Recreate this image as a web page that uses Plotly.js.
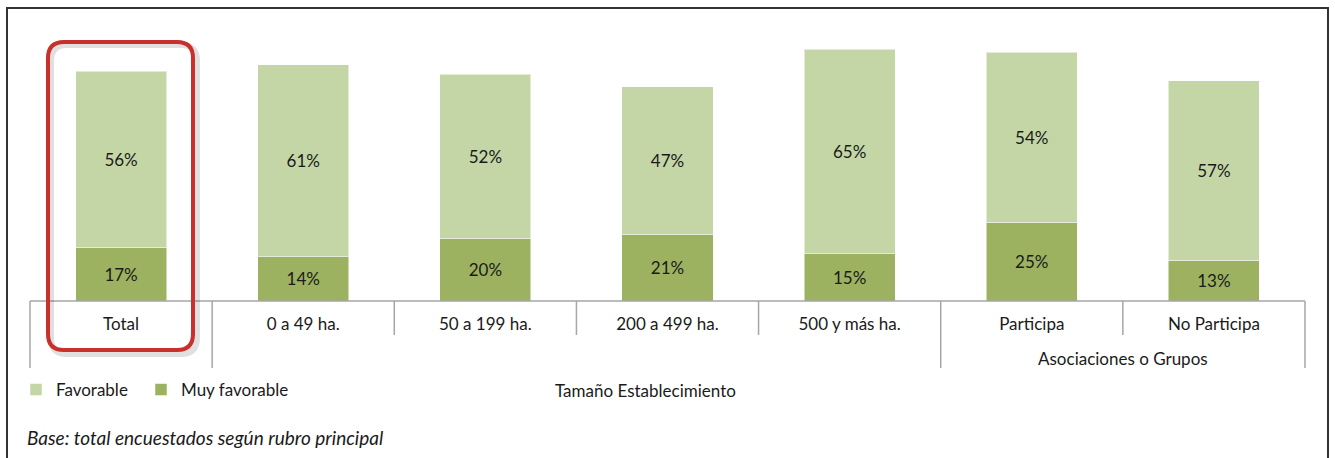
<!DOCTYPE html>
<html><head><meta charset="utf-8">
<script src="https://cdn.plot.ly/plotly-3.0.1.min.js"></script>
<style>html,body{margin:0;padding:0;background:#fff;} #chart{width:1335px;height:458px;}</style>
</head><body><div id="chart"></div>
<script>
// ---- data ----
const categories = ["Total", "0 a 49 ha.", "50 a 199 ha.", "200 a 499 ha.", "500 y más ha.", "Participa", "No Participa"];
const muyFavorable = [17, 14, 20, 21, 15, 25, 13];
const favorable = [56, 61, 52, 47, 65, 54, 57];
const seriesNames = ["Favorable", "Muy favorable"];
const groupLabels = ["Tamaño Establecimiento", "Asociaciones o Grupos"];
const groupRanges = [[1, 4], [5, 6]];
const footnote = "Base: total encuestados según rubro principal";

// ---- layout helpers (pixel -> paper) ----
const W = 1335, H = 458;
const L = 30, R = 1305, T = 33, B = 301;
const px = p => (p - L) / (R - L);
const py = p => (B - p) / (B - T);
const n = categories.length;
const FONT = "Lato, 'Open Sans', sans-serif";
const TXT = "#1a1a1a";
const LIGHT = "#C4D6A6", DARK = "#9CB260";

const traces = [
  {
    type: "bar", name: seriesNames[1], x: categories, y: muyFavorable, legend: "legend2",
    marker: {color: DARK, line: {color: "rgba(255,255,255,0.5)", width: 1}},
    texttemplate: "%{y}%", textposition: "inside", insidetextanchor: "middle",
    textangle: 0, constraintext: "none",
    textfont: {family: FONT, size: 17, color: TXT}, hoverinfo: "skip"
  },
  {
    type: "bar", name: seriesNames[0], x: categories, y: favorable, legend: "legend",
    marker: {color: LIGHT, line: {color: "rgba(255,255,255,0.5)", width: 1}},
    texttemplate: "%{y}%", textposition: "inside", insidetextanchor: "middle",
    textangle: 0, constraintext: "none",
    textfont: {family: FONT, size: 17, color: TXT}, hoverinfo: "skip"
  }
];

const shapes = [];
// outer frame
shapes.push({type: "rect", xref: "paper", yref: "paper",
  x0: px(7), x1: px(1328), y0: py(475), y1: py(8),
  line: {color: "#333333", width: 2}, layer: "below"});
// axis baseline
shapes.push({type: "line", xref: "paper", yref: "paper",
  x0: 0, x1: 1, y0: 0, y1: 0, line: {color: "#A6A6A6", width: 1.5}});
// category dividers: long at group edges, short elsewhere
const longEdges = new Set([0, 1, n]);
groupRanges.forEach(g => { longEdges.add(g[0]); longEdges.add(g[1] + 1); });
for (let i = 0; i <= n; i++) {
  const xe = i / n;
  shapes.push({type: "line", xref: "paper", yref: "paper",
    x0: xe, x1: xe, y0: 0, y1: longEdges.has(i) ? py(368) : py(335),
    line: {color: "#A6A6A6", width: 1.5}});
}
// red rounded highlight around "Total"
function roundRect(x0, y0, x1, y1, r) {
  const rx = r / (R - L), ry = r / (B - T);
  const X0 = px(x0), X1 = px(x1), Y0 = py(y0), Y1 = py(y1);
  return `M${X0 + rx},${Y0} L${X1 - rx},${Y0} Q${X1},${Y0} ${X1},${Y0 - ry} ` +
         `L${X1},${Y1 + ry} Q${X1},${Y1} ${X1 - rx},${Y1} L${X0 + rx},${Y1} ` +
         `Q${X0},${Y1} ${X0},${Y1 + ry} L${X0},${Y0 - ry} Q${X0},${Y0} ${X0 + rx},${Y0} Z`;
}
shapes.push({type: "path", xref: "paper", yref: "paper",
  path: roundRect(51, 45, 197, 354, 16), line: {color: "rgba(0,0,0,0.12)", width: 6}});
shapes.push({type: "path", xref: "paper", yref: "paper",
  path: roundRect(48, 42, 193, 350, 16), line: {color: "#C9302C", width: 4}});

const annotations = [
  {xref: "paper", yref: "paper", x: px(645), y: py(390), xanchor: "center", yanchor: "middle",
   text: groupLabels[0], showarrow: false, font: {family: FONT, size: 17, color: TXT}},
  {xref: "x", yref: "paper", x: (groupRanges[1][0] + groupRanges[1][1]) / 2, y: py(358),
   xanchor: "center", yanchor: "middle",
   text: groupLabels[1], showarrow: false, font: {family: FONT, size: 17, color: TXT}},
  {xref: "paper", yref: "paper", x: px(25), y: py(437), xanchor: "left", yanchor: "middle",
   text: "<i>" + footnote + "</i>", showarrow: false, font: {family: FONT, size: 19, color: TXT}}
];

const legendBase = {orientation: "h", xanchor: "left", yanchor: "middle", y: py(390),
  font: {family: FONT, size: 17, color: TXT}, bgcolor: "rgba(0,0,0,0)",
  itemclick: false, itemdoubleclick: false};

const layout = {
  width: W, height: H,
  margin: {l: L, r: W - R, t: T, b: H - B, pad: 0},
  paper_bgcolor: "#fff", plot_bgcolor: "#fff",
  barmode: "stack", bargap: 0.5,
  font: {family: FONT, size: 17, color: TXT},
  xaxis: {type: "category", showgrid: false, zeroline: false, showline: false,
    ticks: "", tickfont: {family: FONT, size: 17, color: TXT}, ticklabelstandoff: 11, fixedrange: true},
  yaxis: {visible: false, range: [0, (B - T) / 3.15], fixedrange: true},
  showlegend: true,
  legend: Object.assign({}, legendBase, {x: px(16)}),
  legend2: Object.assign({}, legendBase, {x: px(141)}),
  shapes: shapes, annotations: annotations
};

Plotly.newPlot("chart", traces, layout, {displayModeBar: false, staticPlot: true});
</script>
</body></html>
